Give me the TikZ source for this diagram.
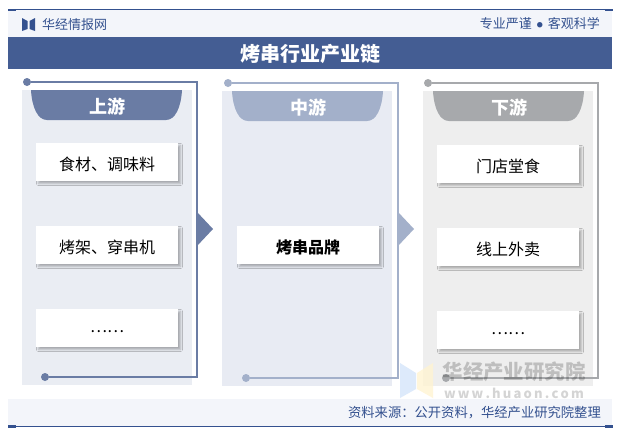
\documentclass[tikz,border=0pt]{standalone}
\usepackage{fontspec}
\setmainfont{Noto Sans CJK SC}
\usepackage{xcolor}
\usetikzlibrary{positioning,calc,shadows.blur}

\definecolor{headblue}{HTML}{445D93}
\definecolor{lineblue}{HTML}{34518F}
\definecolor{bandgrey}{HTML}{F3F5FA}
\definecolor{upcol}{HTML}{6A7CA4}
\definecolor{midcol}{HTML}{A3B0CA}
\definecolor{downcol}{HTML}{A7A9AC}
\definecolor{upback}{HTML}{EAEDF3}
\definecolor{midback}{HTML}{E8EBF3}
\definecolor{downback}{HTML}{EEEEEE}
\definecolor{markblue}{HTML}{D5E5FA}
\definecolor{markyellow}{HTML}{FFF4D2}
\newcommand{\fs}[1]{\fontsize{#1}{#1}\selectfont}

\tikzset{
    itembox/.style={fill=white, minimum width=142pt, minimum height=38pt, inner sep=0pt, font=\fs{16},
        text height=17pt, text depth=0pt,
        blur shadow={shadow xshift=2.5pt, shadow yshift=-2.5pt, shadow blur radius=2pt, shadow opacity=28}},
    dotsbox/.style={itembox, text height=8pt},
    tabtext/.style={text=white, font=\fs{18}\bfseries, inner sep=0pt},
    dotnode/.style={circle, inner sep=0pt, minimum size=8pt},
    headtext/.style={text=lineblue, font=\fs{13}, inner sep=0pt}
}

\begin{document}
\begin{tikzpicture}[x=1pt, y=-1pt]
    \useasboundingbox (0,0) rectangle (621,434);
    \fill[white] (0,0) rectangle (621,434);

    % Top band and title
    \fill[bandgrey] (8,10) rectangle (612,37);
    \fill[headblue] (8,37) rectangle (612,69);
    \node[text=white, font=\fs{20}\bfseries, inner sep=0pt] (title) at (310.5,54) {烤串行业产业链};
    \coordinate (topL) at (8,9.5);
    \coordinate (topR) at (613,9.5);
    \draw[lineblue, line width=0.8pt] (topL) -- (topR);
    \fill[lineblue] (8,8.5) rectangle (16,11);
    \fill[lineblue] (605,8.5) rectangle (613,11);

    % Logo
    \fill[lineblue] (22,18) -- (27.5,21) -- (27.5,29) -- (22,31) -- cycle;
    \fill[lineblue] (35,18) -- (29.5,21) -- (29.5,29) -- (35,31) -- cycle;
    \node[headtext, anchor=west] (brand) at (42,24.5) {华经情报网};
    \node[headtext, anchor=east] (motto) at (600,23.5) {专业严谨\hspace{5pt}\raisebox{1pt}{\fs{6}●}\hspace{5pt}客观科学};

    % Panels
    \foreach \n/\px/\py/\tx/\col/\back/\lab in {A/0/0/0/upcol/upback/上游, B/200/1/201/midcol/midback/中游, C/401/1/402/downcol/downback/下游} {
        \fill[\back] (22+\px,90+\py) rectangle (192+\px,385+\py);
        \fill[\col] (31+\tx,90+\py) .. controls (32+\tx,108+\py) and (38+\tx,120+\py) .. (47+\tx,120+\py)
            -- (166+\tx,120+\py) .. controls (175+\tx,120+\py) and (181+\tx,108+\py) .. (182+\tx,90+\py) -- cycle;
        \node[tabtext] (tab\n) at (107+\tx,107+\py) {\lab};
    }
    \foreach \n/\px/\py/\col in {A/0/0/upcol, B/201/1/midcol, C/401/1/downcol} {
        \node[dotnode, fill=\col] (start\n) at (27+\px,82+\py) {};
        \node[dotnode, fill=\col] (end\n) at (45+\px,377+\py) {};
        \coordinate (corner\n) at (197+\px,377+\py);
        \draw[\col, line width=1.8pt] (start\n) -| (corner\n) -- (end\n);
    }

    % Arrows between panels
    \foreach \px/\col in {0/upcol, 201/midcol} {
        \fill[\col] (197+\px,212) -- (213+\px,229) -- (197+\px,246) -- cycle;
    }

    % Items
    \node[itembox] (itemA1) at (107,162) {食材、调味料};
    \node[itembox] (itemA2) at (107,245) {烤架、穿串机};
    \node[dotsbox] (itemA3) at (107,328) {……};
    \node[itembox, font=\fs{16}\bfseries] (itemB1) at (308,245) {烤串品牌};
    \node[itembox] (itemC1) at (508,164) {门店堂食};
    \node[itembox] (itemC2) at (508,247) {线上外卖};
    \node[dotsbox] (itemC3) at (508,330) {……};

    % Watermark
    \fill[markblue, opacity=0.8] (400,363) -- (416,373) -- (416,389) -- (400,398) -- cycle;
    \fill[markyellow, opacity=0.8] (433,363) -- (417,373) -- (417,389) -- (433,398) -- cycle;
    \node[text=black, opacity=0.2, font=\fs{20.4}\bfseries, inner sep=0pt] (markname) at (514,372) {华经产业研究院};
    \node[text=black, opacity=0.17, font=\fs{13}\bfseries, inner sep=0pt] (markurl) at (514,393) {w\,w\,w\,.\,h\,u\,a\,o\,n\,.\,c\,o\,m};

    % Bottom band
    \fill[bandgrey] (8,399) rectangle (612,426);
    \coordinate (botL) at (8,426.5);
    \coordinate (botR) at (613,426.5);
    \draw[lineblue, line width=0.8pt] (botL) -- (botR);
    \fill[lineblue] (8,425.3) rectangle (16,427.8);
    \fill[lineblue] (605,425.3) rectangle (613,427.8);
    \node[headtext, font=\fs{13.3}, anchor=east] (source) at (601,413) {资料来源：公开资料，华经产业研究院整理};
\end{tikzpicture}
\end{document}
